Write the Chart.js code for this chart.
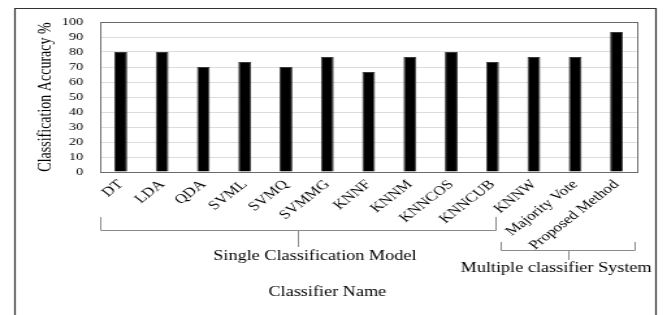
<!DOCTYPE html>
<html>
<head>
<meta charset="utf-8">
<script src="https://cdn.jsdelivr.net/npm/chart.js@4/dist/chart.umd.min.js"></script>
<style>
  html, body { margin: 0; padding: 0; background: #fff; }
  /* the source figure is stretched sideways, so the canvas is drawn narrow and widened by css */
  #chart { display: block; }
</style>
</head>
<body>
<canvas id="chart" width="513" height="315"></canvas>
<script>
const CLASSIFIERS = [
    'DT', 'LDA', 'QDA', 'SVML', 'SVMQ', 'SVMMG', 'KNNF',
    'KNNM', 'KNNCOS', 'KNNCUB', 'KNNW', 'Majority Vote', 'Proposed Method'
];

const ACCURACY = [80, 80, 70, 73.3, 70, 76.7, 66.7, 76.7, 80, 73.3, 76.7, 76.7, 93.3];

const Y_TICKS = [0, 10, 20, 30, 40, 50, 60, 70, 80, 90, 100];

// group brackets under the axis, in category index units
const GROUP_NAMES = ['Single Classification Model', 'Multiple classifier System'];
const GROUP_FROM = [-0.5, 9.21];
const GROUP_TO = [9.08, 12.45];

const X_TITLE = 'Classifier Name';
const Y_TITLE = 'Classification Accuracy %';

const SERIF = '"Liberation Serif", "Times New Roman", serif';

const extras = {
    id: 'extras',
    afterDraw(chart) {
        const ctx = chart.ctx;
        const area = chart.chartArea;
        const x = chart.scales.x;
        const px = (v) => Math.round(x.getPixelForValue(v)) + 0.5;

        ctx.save();

        // outer figure frame (bottom edge is cut off in the source)
        ctx.strokeStyle = '#333';
        ctx.lineWidth = 1.2;
        ctx.beginPath();
        ctx.moveTo(11.5, 330);
        ctx.lineTo(11.5, 8.5);
        ctx.lineTo(504.5, 8.5);
        ctx.lineTo(504.5, 330);
        ctx.stroke();

        // plot frame
        ctx.strokeStyle = '#6b6b6b';
        ctx.lineWidth = 1;
        ctx.strokeRect(Math.round(area.left) + 0.5, Math.round(area.top) + 0.5,
            Math.round(area.right - area.left), Math.round(area.bottom - area.top));

        // brackets
        ctx.strokeStyle = '#8a8a8a';
        ctx.lineWidth = 1;
        const brackets = [
            { top: 217, line: 230, tick: 247, mid: 4.3, text: 4.7, textY: 256 },
            { top: 242, line: 250, tick: 260, mid: 10.83, text: 10.54, textY: 268 }
        ];
        ctx.fillStyle = '#000';
        ctx.font = '14px ' + SERIF;
        ctx.textAlign = 'center';
        ctx.textBaseline = 'middle';
        brackets.forEach((b, i) => {
            const x0 = px(GROUP_FROM[i]);
            const x1 = px(GROUP_TO[i]);
            const xm = px(b.mid);
            ctx.beginPath();
            ctx.moveTo(x0, b.top);
            ctx.lineTo(x0, b.line + 0.5);
            ctx.lineTo(x1, b.line + 0.5);
            ctx.lineTo(x1, b.top);
            ctx.moveTo(xm, b.line + 0.5);
            ctx.lineTo(xm, b.tick);
            ctx.stroke();
            ctx.fillText(GROUP_NAMES[i], x.getPixelForValue(b.text), b.textY);
        });

        ctx.fillText(X_TITLE, x.getPixelForValue(5.0), 292);

        ctx.restore();
    }
};

const chart = new Chart(document.getElementById('chart'), {
    type: 'bar',
    data: {
        labels: CLASSIFIERS,
        datasets: [{
            data: ACCURACY,
            backgroundColor: '#000',
            borderColor: '#3a3a3a',
            borderWidth: 1,
            barPercentage: 0.31,
            categoryPercentage: 1
        }]
    },
    options: {
        responsive: false,
        devicePixelRatio: 1,
        animation: false,
        layout: {
            padding: { left: 12, right: 23, top: 22, bottom: 0 }
        },
        plugins: {
            legend: { display: false },
            tooltip: { enabled: false }
        },
        scales: {
            x: {
                grid: { display: false, drawTicks: false },
                border: { display: false },
                ticks: {
                    color: '#000',
                    font: { family: SERIF, size: 13 },
                    minRotation: 45,
                    maxRotation: 45,
                    padding: 5,
                    autoSkip: false
                },
                afterFit(scale) { scale.height = 143; }
            },
            y: {
                min: 0,
                max: 100,
                afterBuildTicks(scale) {
                    scale.ticks = Y_TICKS.map(v => ({ value: v }));
                },
                grid: { color: '#dcdcdc', lineWidth: 1, drawTicks: false },
                border: { display: false },
                ticks: {
                    color: '#000',
                    font: { family: SERIF, size: 11 },
                    padding: 13,
                    autoSkip: false
                },
                title: {
                    display: true,
                    text: Y_TITLE,
                    color: '#000',
                    font: { family: SERIF, size: 14 },
                    padding: { top: 15, bottom: 0 }
                },
                afterFit(scale) { scale.width = 65; }
            }
        }
    },
    plugins: [extras]
});

// widen the drawn bitmap to the page width
chart.canvas.style.width = '667px';
chart.canvas.style.height = '315px';
</script>
</body>
</html>
